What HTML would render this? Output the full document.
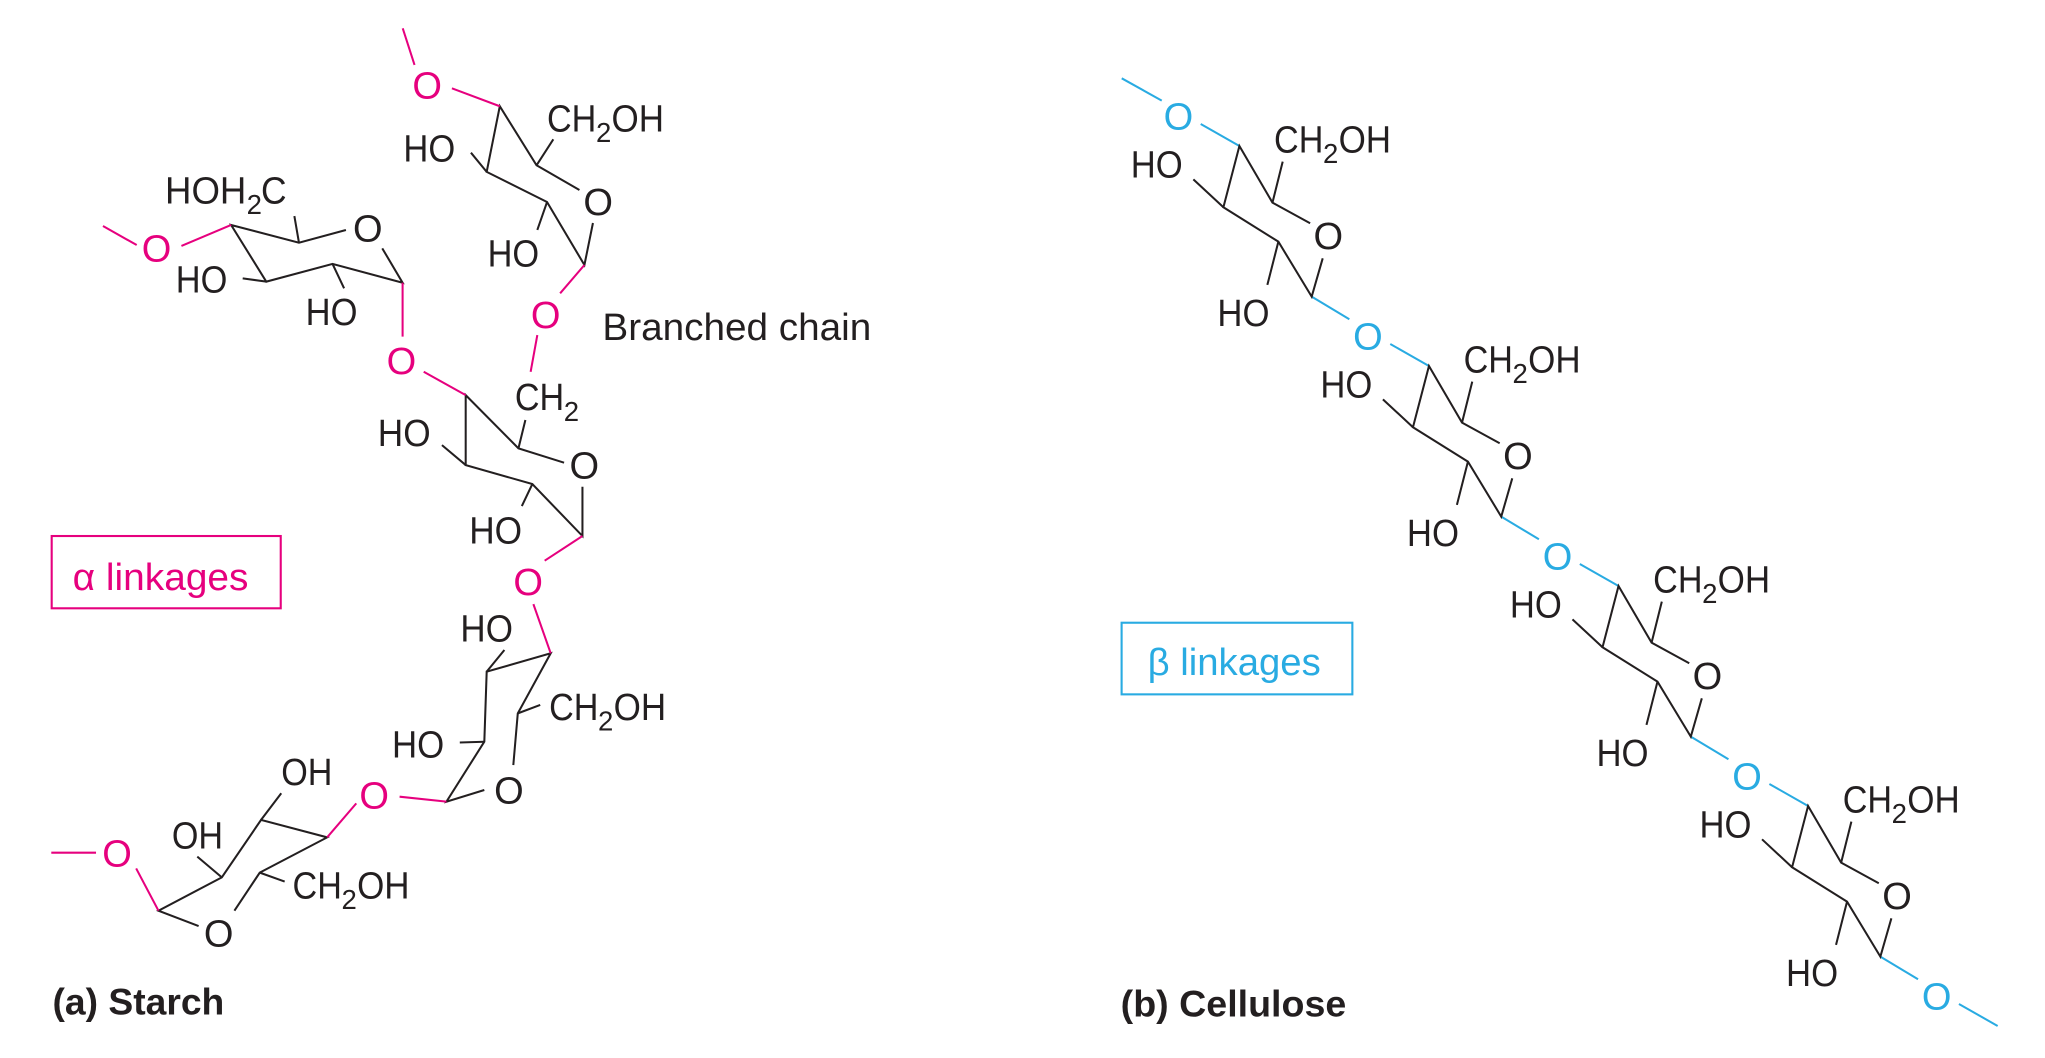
<!DOCTYPE html>
<html>
<head>
<meta charset="utf-8">
<style>
html,body{margin:0;padding:0;background:#fff;}
svg{display:block;}
text{font-family:"Liberation Sans",sans-serif;}
</style>
</head>
<body>
<svg width="2045" height="1058" viewBox="0 0 1558.9 806.5" preserveAspectRatio="none" xmlns="http://www.w3.org/2000/svg">
<rect x="0" y="0" width="1558.9" height="806.5" fill="#fff"/>

<!-- ================= STARCH ================= -->
<g fill="none" stroke="#231f20" stroke-width="1.55" stroke-linejoin="miter">
  <!-- Ring A -->
  <path d="M452,170 L445.5,202 L417,154 L371,131 L381,81 L409,126 L441.7,144.8"/>
  <path d="M371,131 L359,116.4 M417,154 L409.6,175.3 M409,126 L421.8,106.2"/>
  <!-- Ring B -->
  <path d="M263.7,175.3 L227.9,185 L176.2,171.5 L203,214.7 L253.5,201.2 L306.9,215.5 L291.4,189.3"/>
  <path d="M227.9,185 L224.4,164.7 M253.5,201.2 L262.3,219.8 M203,214.7 L185,212.2"/>
  <!-- Ring C -->
  <path d="M430,352.7 L395.2,341.8 L355,301.2 L355,354.5 L405.8,369 L444,408.6 L444,371"/>
  <path d="M395.2,341.8 L400.5,320.2 M355,354.5 L336.9,339.3 M405.8,369 L397.8,385.8"/>
  <!-- Ring D -->
  <path d="M391.3,583.2 L394.7,543.8 L419.8,498 L371,512 L369.2,565.4 L340.3,611.1 L369.2,602.2"/>
  <path d="M371,512 L384.5,495.5 M394.7,543.8 L411.8,537.4 M369.2,565.4 L350.5,566"/>
  <!-- Ring E -->
  <path d="M151.4,705.9 L120.8,694.2 L169.1,668.8 L199,625 L249.4,638.3 L198,665.2 L178.7,694.2"/>
  <path d="M199,625 L214.4,604.7 M169.1,668.8 L150.4,653 M198,665.2 L217,672"/>
</g>

<g fill="none" stroke="#e6007e" stroke-width="1.55">
  <path d="M307,21.6 L316,49.5"/>
  <path d="M344.5,67.3 L381,81"/>
  <path d="M78.5,172.3 L104.2,186.8"/>
  <path d="M138.3,187.5 L176.2,171.5"/>
  <path d="M445.5,202 L427,223.6"/>
  <path d="M409.6,255.4 L404.5,283.4"/>
  <path d="M306.9,215.5 L306.9,256.6"/>
  <path d="M323,283.4 L355,301.2"/>
  <path d="M444,408.6 L415.2,427.4"/>
  <path d="M406.6,460.5 L419.8,498"/>
  <path d="M304.6,607.3 L340.3,611.1"/>
  <path d="M271.6,612.4 L249.4,638.3"/>
  <path d="M120.8,694.2 L103.8,662"/>
  <path d="M39.1,650 L73.2,650"/>
</g>

<!-- pink O labels -->
<g fill="#e6007e" font-size="29" text-anchor="middle">
  <text x="325.6" y="75">O</text>
  <text x="119.3" y="199.5">O</text>
  <text x="416" y="250">O</text>
  <text x="306" y="285">O</text>
  <text x="402.6" y="453.6">O</text>
  <text x="285.2" y="616.2">O</text>
  <text x="89.2" y="660.6">O</text>
</g>

<!-- black labels starch -->
<g fill="#231f20" font-size="29">
  <!-- ring O -->
  <text x="456" y="164" text-anchor="middle">O</text>
  <text x="280.4" y="184" text-anchor="middle">O</text>
  <text x="445.4" y="364.7" text-anchor="middle">O</text>
  <text x="388" y="612.4" text-anchor="middle">O</text>
  <text x="166.7" y="721.6" text-anchor="middle">O</text>

  <!-- HO / OH -->
  <text x="307.5" y="123" textLength="39.5" lengthAdjust="spacingAndGlyphs">HO</text>
  <text x="371.7" y="203" textLength="39.3" lengthAdjust="spacingAndGlyphs">HO</text>
  <text x="134" y="223" textLength="39.3" lengthAdjust="spacingAndGlyphs">HO</text>
  <text x="233" y="247.7" textLength="39.5" lengthAdjust="spacingAndGlyphs">HO</text>
  <text x="288" y="340" textLength="40.3" lengthAdjust="spacingAndGlyphs">HO</text>
  <text x="357.7" y="414.2" textLength="40.3" lengthAdjust="spacingAndGlyphs">HO</text>
  <text x="351" y="489" textLength="40" lengthAdjust="spacingAndGlyphs">HO</text>
  <text x="298.8" y="577.3" textLength="39.8" lengthAdjust="spacingAndGlyphs">HO</text>
  <text x="214.4" y="598.4" textLength="39" lengthAdjust="spacingAndGlyphs">OH</text>
  <text x="131" y="646.7" textLength="39" lengthAdjust="spacingAndGlyphs">OH</text>

  <!-- CH2OH ring A -->
  <text x="417" y="100.4" textLength="37.6" lengthAdjust="spacingAndGlyphs">CH</text>
  <text x="454.3" y="108.4" font-size="21">2</text>
  <text x="466.2" y="100.4" textLength="40" lengthAdjust="spacingAndGlyphs">OH</text>
  <!-- CH2OH ring D -->
  <text x="418.6" y="549" textLength="37.6" lengthAdjust="spacingAndGlyphs">CH</text>
  <text x="455.9" y="557" font-size="21">2</text>
  <text x="467.8" y="549" textLength="40" lengthAdjust="spacingAndGlyphs">OH</text>
  <!-- CH2OH ring E -->
  <text x="223" y="684.8" textLength="37.6" lengthAdjust="spacingAndGlyphs">CH</text>
  <text x="260.3" y="692.8" font-size="21">2</text>
  <text x="272.2" y="684.8" textLength="40" lengthAdjust="spacingAndGlyphs">OH</text>
  <!-- HOH2C ring B -->
  <text x="125.8" y="155" textLength="62" lengthAdjust="spacingAndGlyphs">HOH</text>
  <text x="188" y="163" font-size="21">2</text>
  <text x="199" y="155" textLength="19.5" lengthAdjust="spacingAndGlyphs">C</text>
  <!-- CH2 ring C -->
  <text x="392.5" y="312.6" textLength="37.6" lengthAdjust="spacingAndGlyphs">CH</text>
  <text x="429.8" y="321" font-size="21">2</text>

  <text x="459.2" y="259" font-size="29" textLength="205" lengthAdjust="spacingAndGlyphs">Branched chain</text>
  <text x="40" y="773.5" font-size="28" font-weight="bold" textLength="131" lengthAdjust="spacingAndGlyphs">(a) Starch</text>
</g>

<!-- alpha box -->
<rect x="39.4" y="408.6" width="174.6" height="55.1" fill="none" stroke="#e6007e" stroke-width="1.6"/>
<text x="55.4" y="449.8" font-size="29" fill="#e6007e" textLength="134" lengthAdjust="spacingAndGlyphs">α linkages</text>

<!-- ================= CELLULOSE ================= -->
<path d="M855.1,59.7 L885.6,76.7" stroke="#29abe2" stroke-width="1.55" fill="none"/>

<g>
  <path d="M915.3,94.5 L944.8,111.3 M999.9,226.1 L1028.6,243.4" stroke="#29abe2" stroke-width="1.55" fill="none"/>
  <text x="898.3" y="98.6" font-size="29" fill="#29abe2" text-anchor="middle">O</text>
  <g fill="none" stroke="#231f20" stroke-width="1.55">
    <path d="M998.7,170.2 L970,154.5 L944.8,111.3 L932.6,158 L974.5,184.2 L999.9,226.1 L1008.3,196.9"/>
    <path d="M932.6,158 L909.7,136.7 M970,154.5 L977.8,123.2 M974.5,184.2 L966.1,217.2"/>
  </g>
  <g fill="#231f20" font-size="29">
    <text x="1012.6" y="190" text-anchor="middle">O</text>
    <text x="862" y="135.4" textLength="39.6" lengthAdjust="spacingAndGlyphs">HO</text>
    <text x="928" y="248.5" textLength="39.7" lengthAdjust="spacingAndGlyphs">HO</text>
    <text x="971.2" y="116.4" textLength="37.6" lengthAdjust="spacingAndGlyphs">CH</text>
    <text x="1008.5" y="124.4" font-size="21">2</text>
    <text x="1020.4" y="116.4" textLength="40" lengthAdjust="spacingAndGlyphs">OH</text>
  </g>
</g>

<g transform="translate(144.5,167.7)">
  <path d="M915.3,94.5 L944.8,111.3 M999.9,226.1 L1028.6,243.4" stroke="#29abe2" stroke-width="1.55" fill="none"/>
  <text x="898.3" y="98.6" font-size="29" fill="#29abe2" text-anchor="middle">O</text>
  <g fill="none" stroke="#231f20" stroke-width="1.55">
    <path d="M998.7,170.2 L970,154.5 L944.8,111.3 L932.6,158 L974.5,184.2 L999.9,226.1 L1008.3,196.9"/>
    <path d="M932.6,158 L909.7,136.7 M970,154.5 L977.8,123.2 M974.5,184.2 L966.1,217.2"/>
  </g>
  <g fill="#231f20" font-size="29">
    <text x="1012.6" y="190" text-anchor="middle">O</text>
    <text x="862" y="135.4" textLength="39.6" lengthAdjust="spacingAndGlyphs">HO</text>
    <text x="928" y="248.5" textLength="39.7" lengthAdjust="spacingAndGlyphs">HO</text>
    <text x="971.2" y="116.4" textLength="37.6" lengthAdjust="spacingAndGlyphs">CH</text>
    <text x="1008.5" y="124.4" font-size="21">2</text>
    <text x="1020.4" y="116.4" textLength="40" lengthAdjust="spacingAndGlyphs">OH</text>
  </g>
</g>

<g transform="translate(289,335.4)">
  <path d="M915.3,94.5 L944.8,111.3 M999.9,226.1 L1028.6,243.4" stroke="#29abe2" stroke-width="1.55" fill="none"/>
  <text x="898.3" y="98.6" font-size="29" fill="#29abe2" text-anchor="middle">O</text>
  <g fill="none" stroke="#231f20" stroke-width="1.55">
    <path d="M998.7,170.2 L970,154.5 L944.8,111.3 L932.6,158 L974.5,184.2 L999.9,226.1 L1008.3,196.9"/>
    <path d="M932.6,158 L909.7,136.7 M970,154.5 L977.8,123.2 M974.5,184.2 L966.1,217.2"/>
  </g>
  <g fill="#231f20" font-size="29">
    <text x="1012.6" y="190" text-anchor="middle">O</text>
    <text x="862" y="135.4" textLength="39.6" lengthAdjust="spacingAndGlyphs">HO</text>
    <text x="928" y="248.5" textLength="39.7" lengthAdjust="spacingAndGlyphs">HO</text>
    <text x="971.2" y="116.4" textLength="37.6" lengthAdjust="spacingAndGlyphs">CH</text>
    <text x="1008.5" y="124.4" font-size="21">2</text>
    <text x="1020.4" y="116.4" textLength="40" lengthAdjust="spacingAndGlyphs">OH</text>
  </g>
</g>

<g transform="translate(433.5,503.1)">
  <path d="M915.3,94.5 L944.8,111.3 M999.9,226.1 L1028.6,243.4" stroke="#29abe2" stroke-width="1.55" fill="none"/>
  <text x="898.3" y="98.6" font-size="29" fill="#29abe2" text-anchor="middle">O</text>
  <g fill="none" stroke="#231f20" stroke-width="1.55">
    <path d="M998.7,170.2 L970,154.5 L944.8,111.3 L932.6,158 L974.5,184.2 L999.9,226.1 L1008.3,196.9"/>
    <path d="M932.6,158 L909.7,136.7 M970,154.5 L977.8,123.2 M974.5,184.2 L966.1,217.2"/>
  </g>
  <g fill="#231f20" font-size="29">
    <text x="1012.6" y="190" text-anchor="middle">O</text>
    <text x="862" y="135.4" textLength="39.6" lengthAdjust="spacingAndGlyphs">HO</text>
    <text x="928" y="248.5" textLength="39.7" lengthAdjust="spacingAndGlyphs">HO</text>
    <text x="971.2" y="116.4" textLength="37.6" lengthAdjust="spacingAndGlyphs">CH</text>
    <text x="1008.5" y="124.4" font-size="21">2</text>
    <text x="1020.4" y="116.4" textLength="40" lengthAdjust="spacingAndGlyphs">OH</text>
  </g>
</g>

<g transform="translate(578,670.8)">
  <path d="M915.3,94.5 L944.8,111.3" stroke="#29abe2" stroke-width="1.55" fill="none"/>
  <text x="898.3" y="98.6" font-size="29" fill="#29abe2" text-anchor="middle">O</text>
</g>

<!-- beta box -->
<rect x="855" y="474.7" width="175.9" height="54.6" fill="none" stroke="#29abe2" stroke-width="1.6"/>
<text x="874.8" y="514.6" font-size="29" fill="#29abe2" textLength="132" lengthAdjust="spacingAndGlyphs">β linkages</text>

<text x="854.3" y="775" font-size="28.5" font-weight="bold" fill="#231f20" textLength="172" lengthAdjust="spacingAndGlyphs">(b) Cellulose</text>
</svg>
</body>
</html>
